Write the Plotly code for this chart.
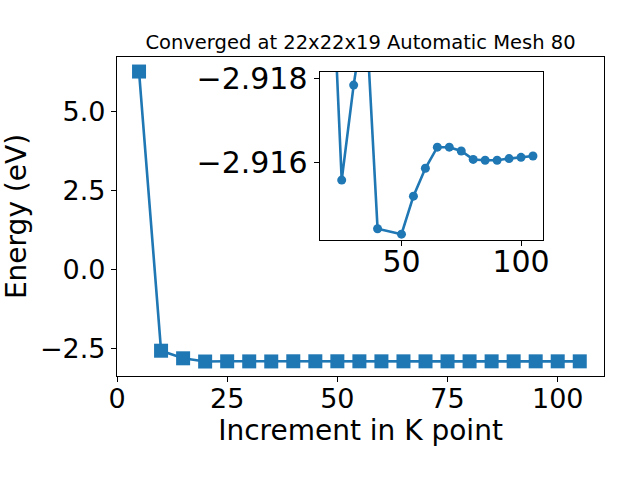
import plotly.graph_objects as go

kpoints = [5, 10, 15, 20, 25, 30, 35, 40, 45, 50, 55, 60, 65, 70, 75, 80, 85, 90, 95, 100, 105]
energy_main = [6.25, -2.58, -2.82, -2.9220, -2.91559, -2.91784, -2.9197, -2.91444, -2.91437, -2.91431,
               -2.91521, -2.91587, -2.91637, -2.91637, -2.91628, -2.91608, -2.91606, -2.91606,
               -2.91610, -2.91613, -2.91616]
# inset data (no point at 45 in the zoomed view)
k_inset = [20, 25, 30, 35, 40, 50, 55, 60, 65, 70, 75, 80, 85, 90, 95, 100, 105]
e_inset = [-2.9220, -2.91559, -2.91784, -2.9197, -2.91444, -2.91431, -2.91521, -2.91587, -2.91637,
           -2.91637, -2.91628, -2.91608, -2.91606, -2.91606, -2.91610, -2.91613, -2.91616]

title = "Converged at 22x22x19 Automatic Mesh 80"
xlabel = "Increment in K point"
ylabel = "Energy (eV)"

color = "#1f77b4"
font = "DejaVu Sans"

fig = go.Figure()
fig.add_trace(go.Scatter(x=kpoints, y=energy_main, mode="lines+markers",
                         line=dict(color=color, width=2.6),
                         marker=dict(symbol="square", size=14, color=color),
                         xaxis="x", yaxis="y", showlegend=False))
fig.add_trace(go.Scatter(x=k_inset, y=e_inset, mode="lines+markers",
                         line=dict(color=color, width=2.6),
                         marker=dict(symbol="circle", size=9, color=color),
                         xaxis="x2", yaxis="y2", showlegend=False, cliponaxis=True))

axis_common = dict(showline=True, linecolor="black", linewidth=1.1, mirror=True,
                   ticks="outside", ticklen=5, tickwidth=1.1, tickcolor="black",
                   showgrid=False, zeroline=False, automargin=False)

fig.update_layout(
    width=640, height=480,
    margin=dict(l=117, r=36, t=57, b=104),
    paper_bgcolor="white", plot_bgcolor="white",
    font=dict(family=font, color="black"),
    title=dict(text=title, font=dict(size=19.5, family=font), x=0.5, xanchor="center",
               xref="paper", y=1 - 42 / 480, yanchor="middle", automargin=False),
    xaxis=dict(domain=[0, 1], range=[0, 110.5], tickvals=[0, 25, 50, 75, 100],
               tickfont=dict(size=27), ticklabelstandoff=-6,
               title=dict(text=xlabel, font=dict(size=28), standoff=0),
               **axis_common),
    yaxis=dict(domain=[0, 1], range=[-3.38, 6.71], tickvals=[-2.5, 0, 2.5, 5.0],
               ticktext=["\u22122.5", "0.0", "2.5", "5.0"],
               tickfont=dict(size=27), title=dict(text=ylabel, font=dict(size=28), standoff=6),
               **axis_common),
    xaxis2=dict(domain=[0.416, 0.875], range=[15.75, 109.25], tickvals=[50, 100],
                tickfont=dict(size=30), anchor="y2", ticklabelstandoff=-10, **axis_common),
    yaxis2=dict(domain=[0.426, 0.953], range=[-2.91417, -2.91815], tickvals=[-2.918, -2.916],
                ticktext=["\u22122.918", "\u22122.916"],
                tickfont=dict(size=30), anchor="x2", **axis_common),
)

fig.write_html("out.html", config={"displayModeBar": False},
               post_script="document.body.style.margin='0';")
